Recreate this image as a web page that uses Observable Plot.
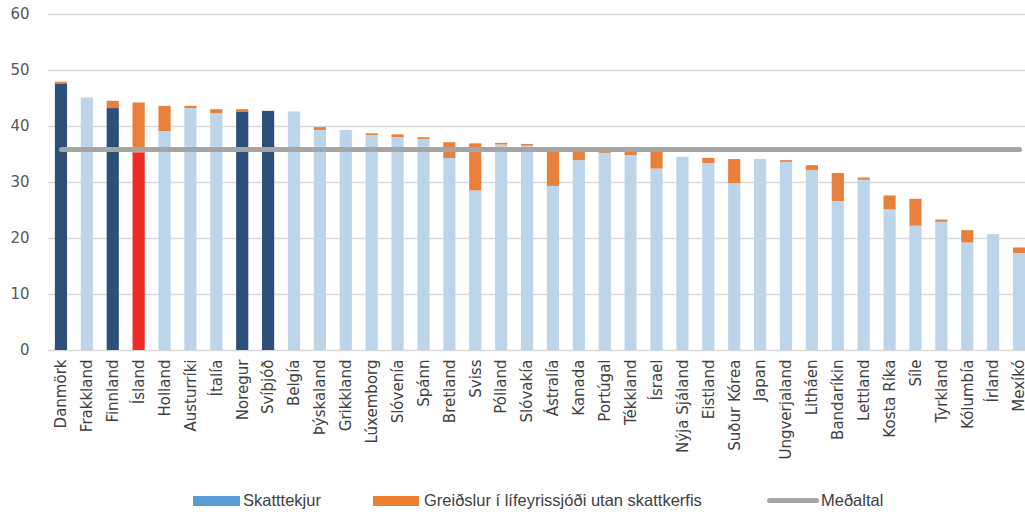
<!DOCTYPE html>
<html>
<head>
<meta charset="utf-8">
<script src="https://cdn.jsdelivr.net/npm/d3@7"></script>
<script src="https://cdn.jsdelivr.net/npm/@observablehq/plot@0.6"></script>
<style>
  html, body { margin: 0; padding: 0; background: #fff; overflow: hidden; width: 1025px; height: 515px; }
  #chart svg { display: block; overflow: hidden; }
  #legend { position: relative; width: 1025px; height: 35px; font-family: "Liberation Sans", Arial, sans-serif; font-size: 16.5px; color: #404040; }
  #legend .sw { position: absolute; }
  #legend .tx { position: absolute; top: 10px; line-height: 20px; white-space: nowrap; }
</style>
</head>
<body>
<div id="chart"></div>
<div id="legend"></div>
<script>
const countries = ["Danmörk","Frakkland","Finnland","Ísland","Holland","Austurríki","Ítalía","Noregur","Svíþjóð","Belgía","Þýskaland","Grikkland","Lúxemborg","Slóvenía","Spánn","Bretland","Sviss","Pólland","Slóvakía","Ástralía","Kanada","Portúgal","Tékkland","Ísrael","Nýja Sjáland","Eistland","Suður Kórea","Japan","Ungverjaland","Litháen","Bandaríkin","Lettland","Kosta Ríka","Síle","Tyrkland","Kólumbía","Írland","Mexíkó"];
const taxRevenue = [47.5,45.1,43.2,35.3,39.1,43.2,42.3,42.6,42.7,42.6,39.3,39.3,38.4,38.0,37.7,34.3,28.5,36.7,36.5,29.3,33.9,35.2,34.8,32.4,34.5,33.4,29.8,34.1,33.6,32.1,26.6,30.4,25.1,22.2,22.9,19.2,20.7,17.3];
const pensionPayments = [0.4,0.0,1.3,8.9,4.5,0.4,0.7,0.4,0.0,0.0,0.5,0.0,0.3,0.5,0.3,2.8,8.4,0.3,0.3,6.2,1.7,0.3,0.7,3.1,0.0,0.9,4.3,0.0,0.3,0.9,5.0,0.4,2.5,4.8,0.4,2.2,0.0,1.0];
const nordicCountries = ["Danmörk","Finnland","Noregur","Svíþjóð"];
const highlightCountry = "Ísland";
const averageValue = 35.9;
const yTicks = [0,10,20,30,40,50,60];
const seriesLabels = ["Skatttekjur","Greiðslur í lífeyrissjóði utan skattkerfis","Meðaltal"];

const C_DARK = "#2d5079", C_LIGHT = "#bdd5ea", C_RED = "#ee2b24", C_ORANGE = "#e8803c", C_GRAY = "#a5a5a5";

const rows = [];
countries.forEach((c, i) => {
  const taxColor = c === highlightCountry ? C_RED : (nordicCountries.includes(c) ? C_DARK : C_LIGHT);
  rows.push({country: c, part: "tax", value: taxRevenue[i], color: taxColor});
  rows.push({country: c, part: "pension", value: pensionPayments[i], color: C_ORANGE});
});
const avgRows = countries.map(c => ({country: c, avg: averageValue}));

const plot = Plot.plot({
  width: 1025,
  height: 480,
  marginTop: 14,
  marginBottom: 130,
  marginLeft: 48,
  marginRight: 0,
  style: {fontFamily: "'DejaVu Sans', sans-serif", background: "#fff"},
  x: {domain: countries, range: [48, 1032], paddingInner: 0.53, paddingOuter: 0.265, round: false, label: null},
  y: {domain: [0, 60], label: null},
  color: {type: "identity"},
  marks: [
    Plot.ruleY(yTicks, {stroke: "#d9d9d9", strokeWidth: 1.6}),
    Plot.barY(rows, {x: "country", y: "value", fill: "color", order: null}),
    Plot.lineY(avgRows, {x: "country", y: "avg", stroke: C_GRAY, strokeWidth: 5, strokeLinecap: "round"}),
    Plot.axisY({ticks: yTicks, tickSize: 0, tickPadding: 19, fontSize: 15, fill: "#595959", label: null}),
    Plot.axisX({tickSize: 0, tickPadding: 9, tickRotate: -90, fontSize: 15, fill: "#404040", label: null})
  ]
});
document.getElementById("chart").appendChild(plot);

const legend = document.getElementById("legend");
const items = [
  {kind: "rect", color: "#5b9bd5", sx: 193, sw: 47, tx: 243, label: seriesLabels[0]},
  {kind: "rect", color: "#ed7d31", sx: 373, sw: 46, tx: 424, label: seriesLabels[1]},
  {kind: "line", color: C_GRAY, sx: 767, sw: 52, tx: 821, label: seriesLabels[2]}
];
items.forEach(it => {
  const s = document.createElement("div");
  s.className = "sw";
  s.style.left = it.sx + "px";
  s.style.width = it.sw + "px";
  s.style.background = it.color;
  if (it.kind === "rect") { s.style.top = "16px"; s.style.height = "10px"; }
  else { s.style.top = "18px"; s.style.height = "5px"; s.style.borderRadius = "3px"; }
  legend.appendChild(s);
  const t = document.createElement("div");
  t.className = "tx";
  t.style.left = it.tx + "px";
  t.textContent = it.label;
  legend.appendChild(t);
});
</script>
</body>
</html>
